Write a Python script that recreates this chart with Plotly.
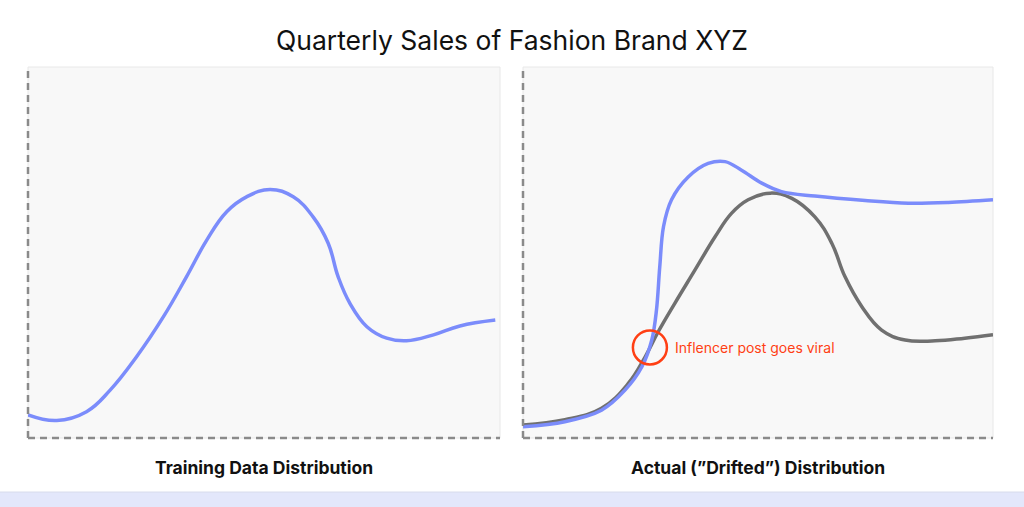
"""
Quarterly sales of Fashion Brand XYZ - training vs drifted distribution
"""
import plotly.graph_objects as go
from plotly.subplots import make_subplots

# Left panel: training data distribution
train_x = [0, 6.1, 12.4, 17.4, 23.0, 28.7, 33.6, 37.9, 42.1, 46.3, 51.3, 56.2,
           60.4, 63.6, 65.7, 68.2, 71.8, 76.0, 80.2, 85.9, 91.5, 99.0]
train_y = [6.2, 4.7, 7.1, 12.9, 21.9, 32.7, 43.5, 53.4, 61.0, 65.0, 67.0, 65.0,
           59.6, 52.5, 43.5, 36.3, 30.0, 26.9, 26.2, 27.8, 30.2, 31.8]

# Right panel: actual (drifted) distribution
drift_x = [0, 8.9, 16.7, 21.7, 25.3, 27.4, 28.4, 29.1, 29.9, 31.6, 35.2, 39.4,
           43.0, 46.5, 50.8, 55.0, 62.1, 72.8, 82.0, 90.5, 100]
drift_y = [3.0, 4.4, 7.5, 12.9, 19.2, 26.4, 34.5, 46.2, 57.0, 64.2, 70.4, 74.0,
           74.5, 72.2, 68.7, 66.4, 65.2, 64.0, 63.3, 63.5, 64.2]

# Right panel: training curve for comparison
ref_x = [0, 8.9, 16.7, 22.4, 26.0, 28.8, 32.3, 36.6, 40.9, 44.4, 47.9, 52.6,
         57.2, 62.1, 65.7, 68.5, 72.1, 76.3, 81.3, 87.7, 94.0, 100]
ref_y = [3.5, 4.9, 8.0, 14.7, 21.9, 28.7, 36.3, 45.3, 54.3, 60.6, 64.2, 66.0,
         64.6, 59.6, 52.5, 43.5, 35.4, 29.1, 26.4, 26.2, 26.9, 27.8]

event_x, event_y = 27.0, 24.4
event_label = "Inflencer post goes viral"

BLUE = "#7b8cfb"
GREY = "#707070"
RED = "#ff3f14"
AXIS = "#8a8a8a"
W, H = 1024, 507

fig = make_subplots(rows=1, cols=2)

fig.add_trace(go.Scatter(
    x=train_x, y=train_y, mode="lines",
    line=dict(color=BLUE, width=3.5, shape="spline", smoothing=1.2),
), row=1, col=1)
fig.add_trace(go.Scatter(
    x=ref_x, y=ref_y, mode="lines",
    line=dict(color=GREY, width=3.5, shape="spline", smoothing=1.2),
), row=1, col=2)
fig.add_trace(go.Scatter(
    x=drift_x, y=drift_y, mode="lines",
    line=dict(color=BLUE, width=3.5, shape="spline", smoothing=1.0),
), row=1, col=2)

# plot areas in pixels
left_px, right_px = (28, 500), (523, 993)
top_px, bot_px = 67, 438
ydom = [1 - bot_px / H, 1 - top_px / H]

fig.update_layout(
    xaxis=dict(domain=[left_px[0] / W, left_px[1] / W]),
    xaxis2=dict(domain=[right_px[0] / W, right_px[1] / W]),
    yaxis=dict(domain=ydom),
    yaxis2=dict(domain=ydom),
)
fig.update_xaxes(range=[0, 100], visible=False, fixedrange=True)
fig.update_yaxes(range=[0, 100], visible=False, fixedrange=True)

shapes = []
for xr, yr in (("x", "y"), ("x2", "y2")):
    # faint frame
    shapes.append(dict(type="rect", xref=f"{xr} domain", yref=f"{yr} domain",
                       x0=0, x1=1, y0=0, y1=1, line=dict(color="#e8e8e8", width=1),
                       layer="below"))
    # dashed axes
    shapes.append(dict(type="line", xref=f"{xr} domain", yref=f"{yr} domain",
                       x0=0, x1=0, y0=0, y1=1, line=dict(color=AXIS, width=2.5, dash="7px,5px")))
    shapes.append(dict(type="line", xref=f"{xr} domain", yref=f"{yr} domain",
                       x0=0, x1=1, y0=0, y1=0, line=dict(color=AXIS, width=2.5, dash="7px,5px")))

# circle marking the event
shapes.append(dict(type="circle", xref="x2", yref="y2", xsizemode="pixel", ysizemode="pixel",
                   xanchor=event_x, yanchor=event_y, x0=-17, x1=17, y0=-17, y1=17,
                   line=dict(color=RED, width=2.5)))

# bottom band
shapes.append(dict(type="rect", xref="paper", yref="paper", x0=0, x1=1, y0=0, y1=15 / H,
                   fillcolor="#e3e7fb", line=dict(width=0), layer="below"))
shapes.append(dict(type="line", xref="paper", yref="paper", x0=0, x1=1, y0=15 / H, y1=15 / H,
                   line=dict(color="#d8dcec", width=1)))

annotations = [
    dict(text="Quarterly Sales of Fashion Brand XYZ", xref="paper", yref="paper",
         x=0.5, y=1 - 40 / H, showarrow=False, yanchor="middle",
         font=dict(size=26.5, color="#111111")),
    dict(text="<b>Training Data Distribution</b>", xref="x domain", yref="paper",
         x=0.5, y=1 - 467 / H, showarrow=False, yanchor="middle",
         font=dict(size=17.5, color="#111111")),
    dict(text="<b>Actual (\u201dDrifted\u201d) Distribution</b>", xref="x2 domain", yref="paper",
         x=0.5, y=1 - 467 / H, showarrow=False, yanchor="middle",
         font=dict(size=17.5, color="#111111")),
    dict(text=event_label, xref="x2", yref="y2", x=event_x + 5, y=event_y,
         xanchor="left", yanchor="middle", showarrow=False,
         font=dict(size=14, color=RED)),
]

fig.update_layout(
    width=W, height=H,
    margin=dict(l=0, r=0, t=0, b=0),
    paper_bgcolor="white", plot_bgcolor="#f8f8f8",
    font=dict(family="Inter, Lato, sans-serif"),
    showlegend=False,
    shapes=shapes, annotations=annotations,
)

fig.write_html("out.html", config=dict(displayModeBar=False),
               post_script="document.body.style.margin='0';document.body.style.overflow='hidden';")
